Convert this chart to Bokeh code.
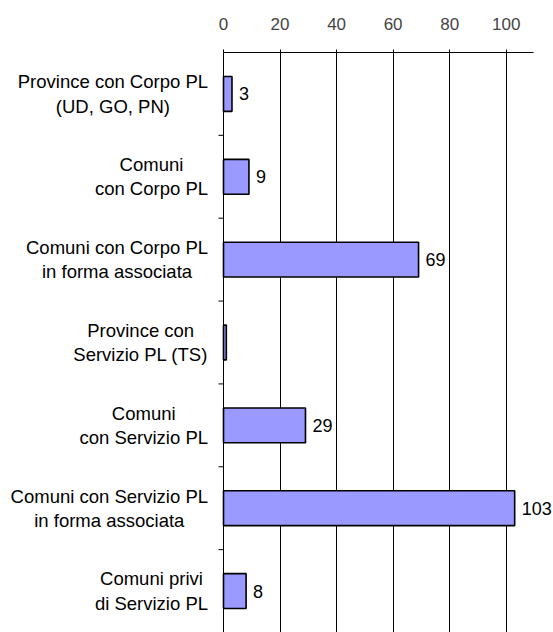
from bokeh.plotting import figure
from bokeh.models import Range1d, FixedTicker, ColumnDataSource
from bokeh.core.properties import value
from bokeh.embed import file_html
from bokeh.resources import INLINE

categories = [
    "Province con Corpo PL\n(UD, GO, PN)",
    "Comuni\ncon Corpo PL",
    "Comuni con Corpo PL\nin forma associata",
    "Province con\nServizio PL (TS)",
    "Comuni\ncon Servizio PL",
    "Comuni con Servizio PL\nin forma associata",
    "Comuni privi\ndi Servizio PL",
]
values = [3, 9, 69, 1, 29, 103, 8]
show_value = [True, True, True, False, True, True, True]
x_ticks = [0, 20, 40, 60, 80, 100]

FONT = "Liberation Sans"
W, H = 553, 632
AXIS_X = 223          # screen x of value 0
PX = 2.827            # pixels per unit
AXIS_END = 109.7      # end of top axis line (units)
CAT_FS = 18.5
n = len(categories)
centers = [i + 0.5 for i in range(n)]

# Arial / Liberation Sans advance widths (per 1000 em) for label layout
ADV = {" ": 278, "(": 333, ")": 333, ",": 278, "C": 722, "D": 722, "G": 778,
       "L": 556, "N": 722, "O": 778, "P": 667, "S": 667, "T": 611, "U": 722,
       "a": 556, "c": 500, "d": 556, "e": 556, "f": 278, "i": 222, "m": 833,
       "n": 556, "o": 556, "p": 556, "r": 333, "s": 500, "t": 278, "u": 556,
       "v": 500, "z": 500}


def text_w(s, fs):
    return sum(ADV.get(ch, 556) for ch in s) / 1000.0 * fs


p = figure(width=W, height=H, output_backend="svg", toolbar_location=None,
           x_range=Range1d(-AXIS_X / PX, (W - AXIS_X) / PX),
           y_range=Range1d(n, 0), x_axis_location="above", y_axis_location=None,
           min_border_left=0, min_border_top=52,
           min_border_right=0, min_border_bottom=0)
p.outline_line_color = None
p.background_fill_color = "white"

src = ColumnDataSource(dict(y=centers, v=values,
                            lbl=[str(v) if s else "" for v, s in zip(values, show_value)]))
p.hbar(y="y", left=0, right="v", height=0.42, source=src,
       fill_color="#9999FF", line_color="black", line_width=1.6)

p.text(x="v", y="y", text="lbl", source=src, x_offset=7,
       text_baseline="middle", text_align="left",
       text_font=value(FONT), text_font_size="18px", text_color="black")

# category labels: two centred lines, block right-aligned next to the axis
lx, ly, lt, loff = [], [], [], []
GAP = 15.5
LINE_SP = 24.4
for c, lab in zip(centers, categories):
    lines = lab.split("\n")
    wmax = max(text_w(s, CAT_FS) for s in lines)
    xc = -(GAP + wmax / 2.0) / PX
    k = len(lines)
    for j, s in enumerate(lines):
        lx.append(xc)
        ly.append(c)
        lt.append(s)
        loff.append((j - (k - 1) / 2.0) * LINE_SP)
cat_src = ColumnDataSource(dict(x=lx, y=ly, t=lt, off=loff))
p.text(x="x", y="y", text="t", y_offset="off", source=cat_src,
       text_align="center", text_baseline="middle",
       text_font=value(FONT), text_font_size=f"{CAT_FS}px", text_color="black")

# category boundary ticks on the value-0 axis
bnd = list(range(1, n))
p.segment(x0=[-5 / PX] * len(bnd), x1=[0] * len(bnd), y0=bnd, y1=bnd,
          line_color="black", line_width=1)

# x axis (top)
xa = p.xaxis[0]
xa.ticker = FixedTicker(ticks=x_ticks)
xa.bounds = (0, AXIS_END)
xa.major_tick_in = 0
xa.major_tick_out = 3
xa.minor_tick_line_color = None
xa.major_label_standoff = 20
xa.major_label_text_font = FONT
xa.major_label_text_font_size = "17px"
xa.axis_line_color = "black"
xa.major_tick_line_color = "black"

p.xgrid.ticker = FixedTicker(ticks=x_ticks)
p.xgrid.grid_line_color = "black"
p.xgrid.grid_line_alpha = 1
p.ygrid.grid_line_color = None

open("out.html", "w").write(file_html(p, INLINE))
